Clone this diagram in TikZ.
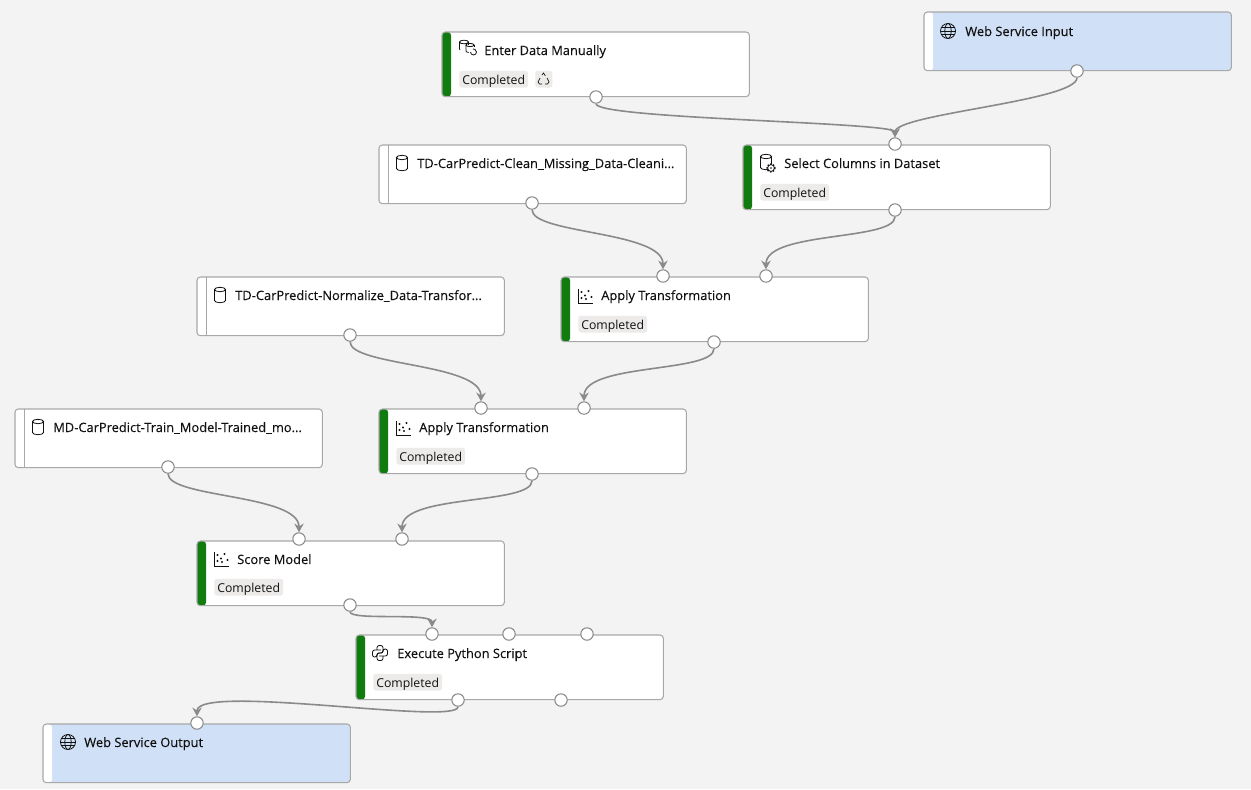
\documentclass[tikz,border=0pt]{standalone}
\usepackage{fontspec}
\setmainfont{Open Sans}
\newfontfamily\titlefont[FakeBold=0.15]{Open Sans}
\usetikzlibrary{positioning,arrows.meta}
\definecolor{canvas}{HTML}{F3F3F3}
\definecolor{okgreen}{HTML}{107C10}
\definecolor{wsblue}{HTML}{D0E0F7}
\definecolor{edge}{HTML}{A8A8A8}
\definecolor{wire}{HTML}{8A8A8A}
\definecolor{pill}{HTML}{EDEBE9}
\definecolor{ink}{HTML}{111111}
\tikzset{
modbox/.style={draw=edge,line width=.8pt,rounded corners=2.5pt,anchor=north west,inner sep=0,outer sep=0,minimum width=230.5pt},
okbox/.style={modbox,fill=white,minimum height=48.5pt,path picture={\fill[okgreen](path picture bounding box.north west) rectangle ([xshift=6.8pt]path picture bounding box.south west);}},
databox/.style={modbox,fill=white,minimum height=44pt,path picture={\draw[edge,line width=.3pt]([xshift=6.8pt]path picture bounding box.north west)--([xshift=6.8pt]path picture bounding box.south west);}},
wsbox/.style={modbox,fill=wsblue,minimum height=44pt,path picture={\fill[white](path picture bounding box.north west) rectangle ([xshift=6.8pt]path picture bounding box.south west);}},
title/.style={anchor=base west,inner sep=0,text=ink,font=\titlefont\fontsize{9.65}{11}\selectfont},
status/.style={anchor=base west,fill=pill,rounded corners=2pt,inner xsep=2.25pt,inner ysep=0,text height=9.9pt,text depth=2.7pt,text=ink,font=\fontsize{9.2}{11}\selectfont},
port/.style={circle,draw=wire,fill=white,line width=.8pt,inner sep=0,minimum size=9.3pt},
wired/.style={draw=wire,fill=none,line width=1.2pt},
icon/.style={draw=ink,line width=.6pt,fill=none},
dbicon/.pic={\draw[icon](-5.5,-5.5)--(-5.5,5.5) arc (180:0:5.5 and 2.2)--(5.5,-5.5);\draw[icon](0,-5.5) ellipse (5.5 and 2.2);},
stackicon/.pic={\draw[icon](-3,-6) ellipse (4.5 and 1.8);\draw[icon](1.5,-6)--(1.5,-3);\draw[icon](-7.5,-6)--(-7.5,1) arc (180:150:4.5 and 1.8);\draw[icon](3,-3) ellipse (4 and 1.6);\draw[icon](-1,-3)--(-1,3) arc (180:110:4 and 1.6);\draw[icon](7,-3)--(7,-1);\draw[icon](3.5,4) arc (180:-100:3);},
gearicon/.pic={\draw[icon,fill=white](0,0) circle (3.4);\draw[ink,line width=1pt,dash pattern=on 1pt off 1.2pt](0,0) circle (4);\fill[ink](0,0) circle (.8);},
globeicon/.pic={\draw[icon](0,0) circle (7.5);\draw[icon](0,0) ellipse (3.2 and 7.5);\draw[icon](-7.5,0)--(7.5,0);\draw[icon](-6.5,-3.7)--(6.5,-3.7);\draw[icon](-6.5,3.7)--(6.5,3.7);},
charticon/.pic={\draw[ink,line width=.7pt](-7,-7)--(-7,7.5)--(8,7.5);\foreach \px/\py in {-3.5/-4,3.5/-5,-3.5/2,0/-.5,6.5/1,1/3}{\fill[ink](\px,\py) circle (1.1);}},
pyhalf/.pic={\draw[icon,rounded corners=1.6pt](1,-3)--(-7.5,-3)--(-7.5,4)--(-3,4)--(-3,0)--(3,0)--(3,-7.5)--(-3,-7.5)--(-3,-3);},
pyicon/.pic={\pic at (0,0) {pyhalf};\pic[rotate=180] at (0,0) {pyhalf};},
recycleicon/.pic={\draw[icon,line width=.5pt](-1.5,-4)--(0,-6)--(1.8,-3.2);\draw[icon,line width=.5pt](3.5,-1)--(5.5,3)--(4,5)--(1.5,5);\draw[icon,line width=.5pt](-1.5,5)--(-4,5)--(-5.5,3)--(-3.5,-1);},
}
\begin{document}
\begin{tikzpicture}[>={Stealth[length=6.5pt,width=7pt]},x=.75pt,y=-.75pt]
\fill[canvas](0,0) rectangle (1251,789);
\begin{scope}[shift={(442,32)}]
\node[okbox](EN){};
\pic at (25,16) {stackicon};
\node[title](T1) at (42,23){Enter Data Manually};
\node[status](S1) at (17,52){Completed};
\node[status,minimum width=12.8pt](S1b) at (93,52){};
\pic at (101.5,47) {recycleicon};
\node[port](E1) at (154,65){};
\end{scope}
\begin{scope}[shift={(924,12)}]
\node[wsbox](WI){};
\pic at (24,19) {globeicon};
\node[title](T2) at (41,24){Web Service Input};
\node[port](W1) at (153,59){};
\end{scope}
\begin{scope}[shift={(743,145)}]
\node[okbox](SC){};
\pic at (23,17) {dbicon};
\pic at (28,23) {gearicon};
\node[title](T3) at (41,23){Select Columns in Dataset};
\node[status](S3) at (17,52){Completed};
\node[port](C1) at (152,-1){};
\node[port](C2) at (152,65){};
\end{scope}
\begin{scope}[shift={(379,145)}]
\node[databox](CL){};
\pic at (23,18) {dbicon};
\node[title](T4) at (38,23){TD-CarPredict-Clean\_Missing\_Data-Cleani...};
\node[port](D1) at (153,58){};
\end{scope}
\begin{scope}[shift={(561,277)}]
\node[okbox](A1){};
\pic at (24,19) {charticon};
\node[title](T5) at (40,23){Apply Transformation};
\node[status](S5) at (17,52){Completed};
\node[port](F1) at (102,-1){};
\node[port](F2) at (205,-1){};
\node[port](F3) at (153,65){};
\end{scope}
\begin{scope}[shift={(197,277)}]
\node[databox](NO){};
\pic at (23,18) {dbicon};
\node[title](T6) at (38,23){TD-CarPredict-Normalize\_Data-Transfor...};
\node[port](N1) at (153,58){};
\end{scope}
\begin{scope}[shift={(379,409)}]
\node[okbox](A2){};
\pic at (24,19) {charticon};
\node[title](T7) at (40,23){Apply Transformation};
\node[status](S7) at (17,52){Completed};
\node[port](G1) at (102,-1){};
\node[port](G2) at (205,-1){};
\node[port](G3) at (153,65){};
\end{scope}
\begin{scope}[shift={(15,409)}]
\node[databox](TR){};
\pic at (23,18) {dbicon};
\node[title](T8) at (38,23){MD-CarPredict-Train\_Model-Trained\_mo...};
\node[port](M1) at (153,58){};
\end{scope}
\begin{scope}[shift={(197,541)}]
\node[okbox](SM){};
\pic at (24,18) {charticon};
\node[title](T9) at (40,23){Score Model};
\node[status](S9) at (17,51){Completed};
\node[port](H1) at (102,-2){};
\node[port](H2) at (205,-2){};
\node[port](H3) at (153,64){};
\end{scope}
\begin{scope}[shift={(356,635)}]
\node[okbox](PY){};
\pic at (24,18) {pyicon};
\node[title](T10) at (41,23){Execute Python Script};
\node[status](S10) at (17,52){Completed};
\node[port](P1) at (76,-1){};
\node[port](P2) at (153,-1){};
\node[port](P3) at (231,-1){};
\node[port](P4) at (102,65){};
\node[port](P5) at (205,65){};
\end{scope}
\begin{scope}[shift={(43,724)}]
\node[wsbox](WO){};
\pic at (25,18) {globeicon};
\node[title](T11) at (41,23){Web Service Output};
\node[port](O1) at (154,-1){};
\end{scope}
% wires
\draw[->,wired](E1)..controls +(0,22) and +(0,-22)..(C1);
\draw[->,wired](W1)..controls +(0,30) and +(0,-30)..(C1);
\draw[->,wired](D1)..controls +(0,31) and +(0,-45)..(F1);
\draw[->,wired](C2)..controls +(0,31) and +(0,-45)..(F2);
\draw[->,wired](N1)..controls +(0,31) and +(0,-45)..(G1);
\draw[->,wired](F3)..controls +(0,31) and +(0,-45)..(G2);
\draw[->,wired](M1)..controls +(0,31) and +(0,-45)..(H1);
\draw[->,wired](G3)..controls +(0,31) and +(0,-45)..(H2);
\draw[->,wired](H3)..controls +(0,16) and +(0,-22)..(P1);
\draw[->,wired](P4)..controls +(0,26) and +(0,-40)..(O1);
\end{tikzpicture}
\end{document}
